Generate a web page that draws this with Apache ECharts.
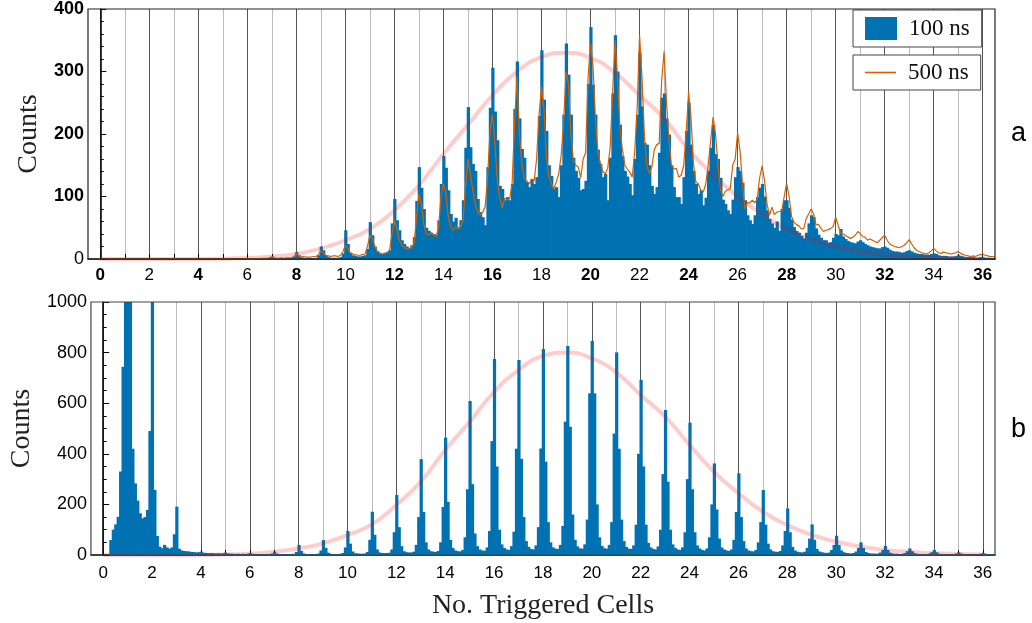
<!DOCTYPE html>
<html>
<head>
<meta charset="utf-8">
<title>No. Triggered Cells</title>
<script src="https://cdn.jsdelivr.net/npm/echarts@6.0.0/dist/echarts.min.js"></script>
<style>
  html, body { margin: 0; padding: 0; background: #fff; }
  #chart { width: 1032px; height: 623px; }
</style>
</head>
<body>
<div id="chart"></div>
<script>
// Histogramme: la ligne n contient les bins centrés en n-0.4, n-0.3, ..., n+0.5
const binWidth = 0.1;

const cellTicks = [0,1,2,3,4,5,6,7,8,9,10,11,12,13,14,15,16,17,18,19,20,21,22,23,24,25,26,27,28,29,30,31,32,33,34,35,36];
const cellLabels = [0,2,4,6,8,10,12,14,16,18,20,22,24,26,28,30,32,34,36];

// panneau a, 100 ns (barres)
const counts100a = [
  [0,0,0,0,0,0,0,0,0,0],
  [0,0,0,0,0,0,0,0,0,0],
  [0,0,0,0,0,0,0,0,0,0],
  [0,0,0,0,0,0,0,0,0,0],
  [0,0,0,0,0,0,0,0,0,0],
  [0,0,0,0,0,0,0,0,0,0],
  [0,0,0,0,0,0,0,0,0,0],
  [0,0,0,1,4,1,0,0,1,0],
  [0,1,1,4,11,6,3,1,2,1],
  [1,1,2,6,20,14,6,3,2,2],
  [2,2,3,9,46,24,10,6,5,4],
  [4,5,6,16,59,38,20,12,9,8],
  [10,11,14,57,96,62,46,30,24,20],
  [18,22,35,93,147,114,80,50,45,42],
  [40,38,62,120,165,146,110,72,60,66],
  [51,62,94,178,243,179,152,141,96,75],
  [67,54,147,242,306,236,190,117,112,94],
  [99,94,120,240,316,225,176,162,123,115],
  [128,120,131,229,334,255,205,150,133,112],
  [115,99,150,231,345,295,231,162,141,130],
  [110,112,125,280,371,279,231,175,152,131],
  [136,94,162,265,358,300,215,165,141,132],
  [120,102,160,231,330,244,186,183,150,117],
  [104,115,170,258,265,225,199,150,115,99],
  [99,88,131,205,250,183,141,120,104,110],
  [86,98,141,178,215,168,160,130,95,88],
  [78,72,95,131,147,141,122,94,70,62],
  [56,70,99,114,120,100,78,64,57,50],
  [60,45,80,94,94,82,63,51,45,42],
  [37,33,42,57,70,67,49,39,34,30],
  [30,26,27,34,40,38,48,36,32,29],
  [27,26,25,28,30,27,24,22,20,19],
  [18,17,17,19,20,18,15,13,12,12],
  [11,10,11,13,14,12,10,9,8,8],
  [7,7,7,8,9,8,6,5,5,5],
  [4,4,4,5,6,5,4,3,3,3],
  [3,2,2,3,3,2,2,2,1,1]
];

// panneau a, 500 ns (ligne)
const counts500a = [
  [0,0,0,0,0,0,0,0,0,0],
  [0,0,0,0,1,0,0,0,0,0],
  [0,0,0,0,0,0,1,0,0,0],
  [0,0,0,0,1,0,0,0,0,0],
  [0,0,0,1,0,0,0,0,1,0],
  [0,0,0,0,1,0,0,1,0,0],
  [0,1,0,0,1,0,1,0,0,1],
  [1,1,1,2,3,2,1,1,2,1],
  [2,2,2,4,8,5,3,4,3,3],
  [3,4,4,7,13,10,6,5,4,5],
  [5,4,6,12,22,17,10,8,7,6],
  [6,7,8,20,38,33,20,13,10,8],
  [9,10,14,40,62,48,30,22,18,17],
  [16,18,25,65,104,88,55,40,38,42],
  [38,36,50,100,120,105,67,51,46,51],
  [48,51,62,115,160,136,110,88,75,70],
  [75,83,130,205,231,185,125,98,82,97],
  [95,96,120,215,292,200,152,128,125,120],
  [128,125,160,231,276,240,165,131,122,112],
  [123,136,165,215,300,281,200,157,150,147],
  [130,160,170,290,344,310,225,170,154,140],
  [136,145,178,265,350,290,210,175,150,144],
  [139,131,170,240,358,290,195,149,137,147],
  [175,183,185,284,332,250,190,150,144,145],
  [131,134,150,200,268,225,152,123,120,110],
  [107,120,150,189,227,200,150,112,100,108],
  [111,112,150,160,202,173,120,80,90,90],
  [94,90,96,130,149,125,88,70,83,71],
  [75,76,76,100,121,100,68,59,55,53],
  [48,49,65,72,80,72,55,55,49,44],
  [46,47,49,52,67,54,41,40,38,35],
  [33,35,38,44,41,36,35,30,32,30],
  [28,26,30,34,38,30,24,22,20,19],
  [18,20,22,26,31,24,18,14,12,10],
  [9,8,10,13,17,13,10,9,11,10],
  [9,8,9,10,12,9,7,6,5,4],
  [5,4,6,7,8,6,5,4,4,3]
];

// panneau b, 100 ns (barres) ; les pics en 1 et 2 dépassent 1000
const counts100b = [
  [0,0,0,0,0,0,0,59,100,121],
  [151,330,744,1300,1400,1100,420,283,215,165],
  [145,150,178,490,1300,257,75,33,27,40],
  [30,25,30,82,191,25,18,16,15,14],
  [12,12,10,11,13,9,8,7,8,7],
  [6,7,6,7,9,6,5,5,4,5],
  [4,5,4,5,7,5,4,3,4,3],
  [3,4,4,6,13,6,4,3,3,3],
  [3,3,5,12,40,16,6,4,3,3],
  [3,4,6,18,59,28,9,5,4,4],
  [4,5,8,30,95,45,14,7,6,5],
  [5,6,12,60,171,80,22,10,8,8],
  [8,9,22,90,237,110,35,15,11,10],
  [10,13,40,150,379,170,50,22,15,13],
  [12,16,50,190,464,210,60,28,18,15],
  [14,20,70,260,609,280,85,35,22,18],
  [17,30,95,450,775,350,100,42,28,22],
  [20,35,92,420,771,380,150,55,32,24],
  [22,38,110,421,814,369,130,50,30,25],
  [24,40,115,527,826,507,160,60,34,26],
  [25,42,140,639,846,639,200,70,36,27],
  [25,40,130,480,801,420,140,55,32,25],
  [24,38,120,400,692,350,120,48,30,24],
  [22,34,100,320,573,290,100,42,28,22],
  [20,30,90,300,523,260,90,38,26,20],
  [18,26,70,200,362,180,65,30,22,18],
  [16,22,60,170,323,150,55,26,18,15],
  [14,20,50,130,257,120,45,22,15,13],
  [12,16,38,95,184,90,32,18,13,11],
  [10,13,28,65,121,60,24,14,11,9],
  [8,10,20,40,76,40,18,11,8,7],
  [6,8,14,28,50,28,12,8,6,6],
  [5,6,10,20,36,20,9,6,5,5],
  [4,5,8,15,26,15,7,5,4,4],
  [3,4,6,11,20,11,5,4,3,3],
  [2,3,4,6,10,6,3,2,2,2],
  [2,2,3,5,8,5,3,2,2,1]
];

// courbes ajustées (valeur à chaque nombre entier de cellules)
const fitA = [0,0,0,0,0,0.5,1.5,4,8,17,30,48,78,118,168,215,262,300,323,330,322,298,262,225,175,135,100,72,48,32,20,12,7,4,2,1,0.5];
const fitB = [0,0,0,0,1,2,5,13,26,46,79,121,198,290,415,527,645,731,787,800,777,722,632,547,435,329,244,171,118,79,53,33,20,12,7,4,2];

const BLUE = '#0072b2';
const ORANGE = '#d55e00';
const FIT = 'rgba(255,0,0,0.2)';
const SANS = 'Liberation Sans, Arial, sans-serif';
const SERIF = 'Liberation Serif, Times New Roman, serif';

function toPoints(rows) {
    const pts = [];
    rows.forEach((row, n) => {
        row.forEach((v, i) => pts.push([Math.round((n + (i - 4) * binWidth) * 100) / 100, v]));
    });
    return pts;
}

function histBar(params, api) {
    const x = api.value(0);
    const y = api.value(1);
    if (!(y > 0)) return null;
    const a = api.coord([x - binWidth / 2, y]);
    const b = api.coord([x + binWidth / 2, 0]);
    const cs = params.coordSys;
    const top = Math.max(a[1], cs.y);
    const left = Math.max(a[0], cs.x);
    const right = Math.min(b[0] + 0.8, cs.x + cs.width);
    if (right <= left) return null;
    return {
        type: 'rect',
        shape: { x: left, y: top, width: right - left, height: b[1] - top },
        style: { fill: BLUE }
    };
}

function xAxisFor(grid, bottom) {
    return {
        type: 'value',
        gridIndex: grid,
        min: -0.5,
        max: 36.5,
        name: bottom ? 'No. Triggered Cells' : '',
        nameLocation: 'middle',
        nameGap: 37,
        nameTextStyle: { fontFamily: SERIF, fontSize: 28, color: '#222' },
        axisLine: { onZero: false, lineStyle: { color: '#000', width: 1.5 } },
        axisTick: { inside: true, length: 5, customValues: cellTicks, lineStyle: { color: '#000' } },
        axisLabel: {
            customValues: cellLabels,
            margin: bottom ? 10 : 8,
            fontFamily: SANS,
            fontSize: 17,
            color: '#000',
            formatter: v => (!bottom && v % 4 === 0) ? '{b|' + v + '}' : String(v),
            rich: { b: { fontFamily: SANS, fontSize: 17, fontWeight: 'bold', color: '#000' } }
        },
        splitLine: { show: true, lineStyle: { color: ['#555', '#bbb'], width: 1 } }
    };
}

function yAxisFor(grid, max, step, minor, nameGap, bottom) {
    return {
        type: 'value',
        gridIndex: grid,
        min: 0,
        max: max,
        interval: step,
        name: 'Counts',
        nameLocation: 'middle',
        nameGap: nameGap,
        nameTextStyle: { fontFamily: SERIF, fontSize: 28, color: '#222' },
        axisLine: { show: true, lineStyle: { color: '#000', width: 1.5 } },
        axisTick: { inside: true, length: 6, lineStyle: { color: '#000' } },
        minorTick: { show: true, splitNumber: minor, length: 3.5, lineStyle: { color: '#000' } },
        splitLine: { show: false },
        axisLabel: {
            margin: 4,
            fontFamily: SANS,
            fontSize: 18,
            color: '#000',
            formatter: v => (!bottom && v > 0) ? '{b|' + v + '}' : String(v),
            rich: { b: { fontFamily: SANS, fontSize: 18, fontWeight: 'bold', color: '#000' } }
        }
    };
}

const chart = echarts.init(document.getElementById('chart'));

const legendBase = {
    orient: 'vertical',
    left: 853,
    borderColor: '#444',
    borderWidth: 1,
    backgroundColor: '#fff',
    textStyle: { fontFamily: SERIF, fontSize: 23, color: '#111', padding: [0, 0, 0, 7] },
    selectedMode: false
};

const option = {
    animation: false,
    backgroundColor: '#fff',
    color: [BLUE, ORANGE],
    grid: [
        { left: 88, top: 7, width: 907, height: 252, show: true, borderColor: '#222', borderWidth: 1.2, z: 10 },
        { left: 88, top: 302, width: 907, height: 253, show: true, borderColor: '#444', borderWidth: 1.2, z: 10 }
    ],
    xAxis: [xAxisFor(0, false), xAxisFor(1, true)],
    yAxis: [yAxisFor(0, 400, 100, 5, 44, false), yAxisFor(1, 1000, 200, 4, 54, true)],
    legend: [
        Object.assign({}, legendBase, {
            top: 10, itemWidth: 32, itemHeight: 23, padding: [7, 12, 7, 12],
            data: [{ name: '100 ns', icon: 'rect', itemStyle: { color: BLUE } }]
        }),
        Object.assign({}, legendBase, {
            top: 55, itemWidth: 31, itemHeight: 1.6, padding: [6, 12, 6, 12],
            data: [{ name: '500 ns', icon: 'rect', itemStyle: { color: ORANGE, borderWidth: 0 } }]
        })
    ],
    graphic: [
        { type: 'text', left: 1011, top: 120, style: { text: 'a', fontFamily: SANS, fontSize: 27, fill: '#000' } },
        { type: 'text', left: 1011, top: 416, style: { text: 'b', fontFamily: SANS, fontSize: 27, fill: '#000' } }
    ],
    series: [
        {
            name: '100 ns',
            type: 'custom',
            xAxisIndex: 0,
            yAxisIndex: 0,
            renderItem: histBar,
            itemStyle: { color: BLUE },
            encode: { x: 0, y: 1 },
            data: toPoints(counts100a),
            z: 2
        },
        {
            name: 'fit a',
            type: 'line',
            xAxisIndex: 0,
            yAxisIndex: 0,
            smooth: true,
            symbol: 'none',
            lineStyle: { color: FIT, width: 4 },
            data: cellTicks.map((c, i) => [c, fitA[i]]),
            z: 3
        },
        {
            name: '500 ns',
            type: 'line',
            xAxisIndex: 0,
            yAxisIndex: 0,
            symbol: 'none',
            lineStyle: { color: ORANGE, width: 1.2 },
            itemStyle: { color: ORANGE },
            data: toPoints(counts500a),
            z: 4
        },
        {
            name: '100 ns b',
            type: 'custom',
            xAxisIndex: 1,
            yAxisIndex: 1,
            renderItem: histBar,
            itemStyle: { color: BLUE },
            encode: { x: 0, y: 1 },
            data: toPoints(counts100b),
            z: 2
        },
        {
            name: 'fit b',
            type: 'line',
            xAxisIndex: 1,
            yAxisIndex: 1,
            smooth: true,
            symbol: 'none',
            lineStyle: { color: FIT, width: 4 },
            data: cellTicks.map((c, i) => [c, fitB[i]]),
            z: 3
        }
    ]
};

chart.setOption(option);
</script>
</body>
</html>
